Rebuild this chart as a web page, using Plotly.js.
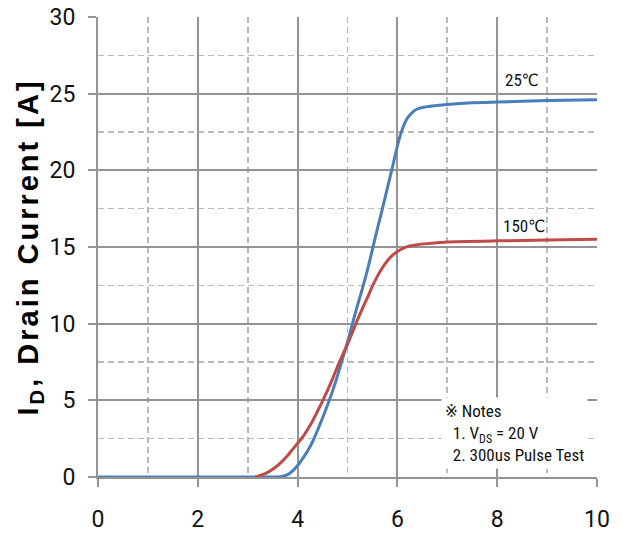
<!DOCTYPE html>
<html>
<head>
<meta charset="utf-8">
<script src="https://cdn.plot.ly/plotly-3.0.1.min.js"></script>
<style>
html,body{margin:0;padding:0;background:#fff;}
#chart{width:622px;height:536px;}
.ytitle{letter-spacing:3px;}
</style>
</head>
<body>
<div id="chart"></div>
<script>
// 25°C transfer curve
const x25 = [0, 1, 2, 3, 3.6, 3.7, 3.8, 3.9, 4.0, 4.1, 4.2, 4.3, 4.4, 4.5, 4.6, 4.7, 4.8, 4.9, 5.0, 5.1, 5.2, 5.3, 5.4, 5.5, 5.6, 5.7, 5.8, 5.9, 6.0, 6.05, 6.1, 6.15, 6.2, 6.3, 6.4, 6.5, 6.7, 7.0, 7.5, 8.0, 9.0, 10.0];
const y25 = [0, 0, 0, 0, 0, 0.05, 0.15, 0.4, 0.75, 1.2, 1.7, 2.3, 3.05, 3.85, 4.7, 5.6, 6.6, 7.7, 8.8, 10.0, 11.2, 12.3, 13.5, 14.85, 16.2, 17.5, 18.85, 20.2, 21.6, 22.2, 22.7, 23.1, 23.4, 23.78, 24.0, 24.1, 24.2, 24.3, 24.4, 24.45, 24.55, 24.6];
// 150°C transfer curve
const x150 = [3.15, 3.3, 3.4, 3.5, 3.6, 3.7, 3.8, 3.9, 4.0, 4.1, 4.2, 4.3, 4.4, 4.5, 4.6, 4.7, 4.8, 4.9, 5.0, 5.1, 5.2, 5.3, 5.4, 5.5, 5.6, 5.7, 5.8, 5.9, 6.0, 6.1, 6.2, 6.3, 6.4, 6.6, 7.0, 8.0, 9.0, 10.0];
const y150 = [0, 0.15, 0.3, 0.5, 0.75, 1.05, 1.4, 1.8, 2.2, 2.6, 3.1, 3.65, 4.3, 4.95, 5.65, 6.4, 7.2, 7.95, 8.65, 9.45, 10.25, 11.0, 11.7, 12.45, 13.1, 13.65, 14.1, 14.45, 14.7, 14.9, 15.02, 15.1, 15.15, 15.22, 15.33, 15.4, 15.45, 15.5];
// axis ticks
const xTicks = [0, 2, 4, 6, 8, 10];
const yTicks = [0, 5, 10, 15, 20, 25, 30];
const curveLabels = ["25℃", "150℃"];
const noteLines = ["※ Notes", "\u00a0\u00a01. V<sub>DS</sub> = 20 V", "\u00a0\u00a02. 300us Pulse Test"];

const narrow = "'Liberation Sans Narrow', 'Roboto Condensed', 'DejaVu Sans Condensed', sans-serif";
const tickFam = "Roboto, 'DejaVu Sans Condensed', sans-serif";
const gridMajor = "#939393";
const gridMinor = "#bababa";

const traces = [
  {x: x25, y: y25, type: "scatter", mode: "lines", name: curveLabels[0],
   line: {color: "#4a7ebb", width: 3, shape: "spline", smoothing: 0.5}},
  {x: x150, y: y150, type: "scatter", mode: "lines", name: curveLabels[1],
   line: {color: "#be4b48", width: 3, shape: "spline", smoothing: 0.5}}
];

const layout = {
  width: 622, height: 536,
  margin: {l: 98, r: 25, t: 17, b: 59},
  paper_bgcolor: "#fff", plot_bgcolor: "#fff",
  showlegend: false,
  xaxis: {
    range: [0, 10], tickvals: xTicks, ticktext: xTicks.map(String),
    showline: true, linecolor: gridMajor, linewidth: 2,
    showgrid: true, gridcolor: gridMajor, gridwidth: 2,
    zeroline: false, ticks: "outside", ticklen: 8, tickwidth: 2, tickcolor: gridMajor,
    ticklabelstandoff: 12,
    tickfont: {family: tickFam, size: 23, color: "#111"},
    minor: {dtick: 1, showgrid: true, gridcolor: gridMinor, gridwidth: 1.6, griddash: "6px,4px"},
    fixedrange: true
  },
  yaxis: {
    range: [0, 30], tickvals: yTicks, ticktext: yTicks.map(String),
    showline: true, linecolor: gridMajor, linewidth: 2,
    showgrid: true, gridcolor: gridMajor, gridwidth: 2,
    zeroline: false, ticks: "outside", ticklen: 8, tickwidth: 2, tickcolor: gridMajor,
    ticklabelstandoff: 8,
    tickfont: {family: tickFam, size: 23, color: "#111"},
    minor: {dtick: 2.5, showgrid: true, gridcolor: gridMinor, gridwidth: 1.6, griddash: "6px,4px"},
    title: {text: "<b>I<sub>D</sub>, Drain Current [A]</b>", standoff: 2,
            font: {family: "'Liberation Sans', Arimo, Arial, sans-serif", size: 29, color: "#000"}},
    fixedrange: true
  },
  annotations: [
    {x: 8.5, y: 25.9, xref: "x", yref: "y", text: curveLabels[0], showarrow: false,
     font: {family: narrow, size: 17, color: "#111"}},
    {x: 8.54, y: 16.35, xref: "x", yref: "y", text: curveLabels[1], showarrow: false,
     font: {family: narrow, size: 17, color: "#111"}},
    {x: 6.87, y: 2.85, xref: "x", yref: "y", xanchor: "left", yanchor: "middle",
     text: noteLines.join("<br>"), align: "left", showarrow: false,
     bgcolor: "#fff", borderpad: 3,
     font: {family: narrow, size: 17, color: "#111"}}
  ]
};

Plotly.newPlot("chart", traces, layout, {displayModeBar: false, staticPlot: true});
</script>
</body>
</html>
